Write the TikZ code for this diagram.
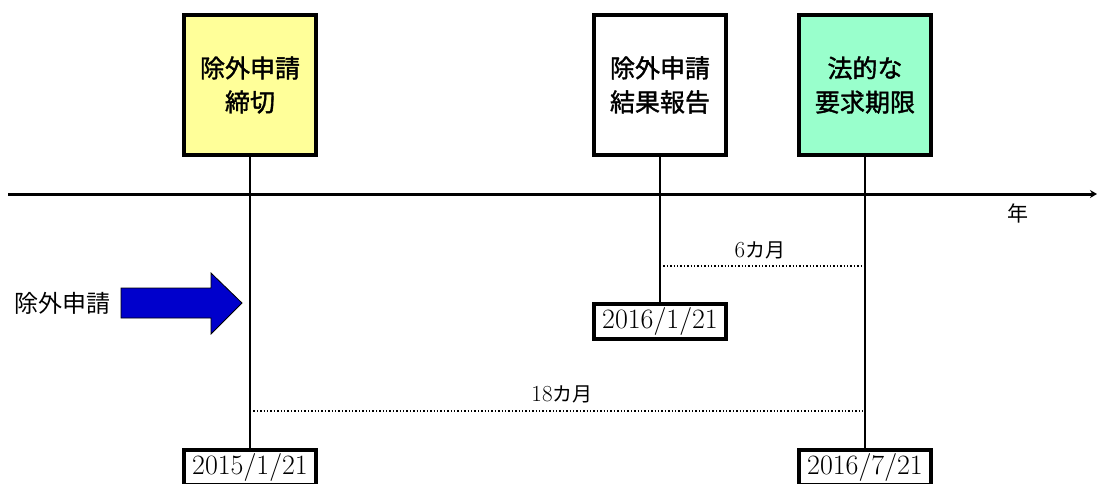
\documentclass[tikz,border=0pt]{standalone}
\usepackage{fontspec}
\newfontfamily\cjk{Noto Sans CJK JP}
\newfontfamily\cjkb{Noto Sans CJK JP}[FakeBold=1.5]
\usetikzlibrary{arrows.meta,shapes.arrows}
\definecolor{boxyellow}{HTML}{FFFF99}
\definecolor{boxgreen}{HTML}{99FFCC}
\definecolor{arrowblue}{HTML}{0000CC}
\begin{document}
\begin{tikzpicture}[x=1pt,y=-1pt,
  event/.style={draw=black,line width=4pt,minimum width=132pt,minimum height=140pt,inner sep=0pt,align=center,font=\cjkb\fontsize{25}{34}\selectfont},
  datebox/.style={draw=black,line width=4pt,minimum width=132pt,minimum height=35pt,inner sep=0pt,font=\fontsize{28}{30}\selectfont},
  stem/.style={line width=1.6pt},
  span/.style={line width=1.4pt,dotted},
  lbl/.style={font=\fontsize{23}{24}\selectfont}]
\useasboundingbox (0,0) rectangle (1097,483);
\clip (0,0) rectangle (1097,483);
% top event boxes
\node[event,fill=boxyellow] (e1) at (250,85) {除外申請\\締切};
\node[event,fill=white] (e2) at (660,85) {除外申請\\結果報告};
\node[event,fill=boxgreen] (e3) at (865,85) {法的な\\要求期限};
% axis
\coordinate (ax0) at (8,194);
\coordinate (ax1) at (1097,194);
\draw[line width=3pt,-{Stealth[length=7pt,width=8pt]}] (ax0) -- (ax1);
\node[font=\cjk\fontsize{21}{22}\selectfont] (year) at (1018,213) {年};
% date boxes
\node[datebox,fill=white] (d2) at (660,321) {2016/1/21};
\node[datebox,fill=white,anchor=north] (d1) at (250,448) {2015/1/21};
\node[datebox,fill=white,anchor=north] (d3) at (865,448) {2016/7/21};
% stems
\draw[stem] (e1.south) -- (d1.north);
\draw[stem] (e2.south) -- (d2.north);
\draw[stem] (e3.south) -- (d3.north);
% spans
\coordinate (s6a) at (660,266);
\coordinate (s6b) at (865,266);
\draw[span] (s6a) -- (s6b);
\node[lbl] (l6) at (760,250) {6{\cjk\fontsize{20}{22}\selectfont カ月}};
\coordinate (s18a) at (250,411);
\coordinate (s18b) at (865,411);
\draw[span] (s18a) -- (s18b);
\node[lbl] (l18) at (562,394) {18{\cjk\fontsize{20}{22}\selectfont カ月}};
% arrow
\node[font=\cjk\fontsize{24}{25}\selectfont] (app) at (62,303) {除外申請};
\draw[fill=arrowblue,draw=black,line width=0.8pt]
  (121,288) -- (211,288) -- (211,273) -- (242,303) -- (211,334) -- (211,318) -- (121,318) -- cycle;
\end{tikzpicture}
\end{document}
